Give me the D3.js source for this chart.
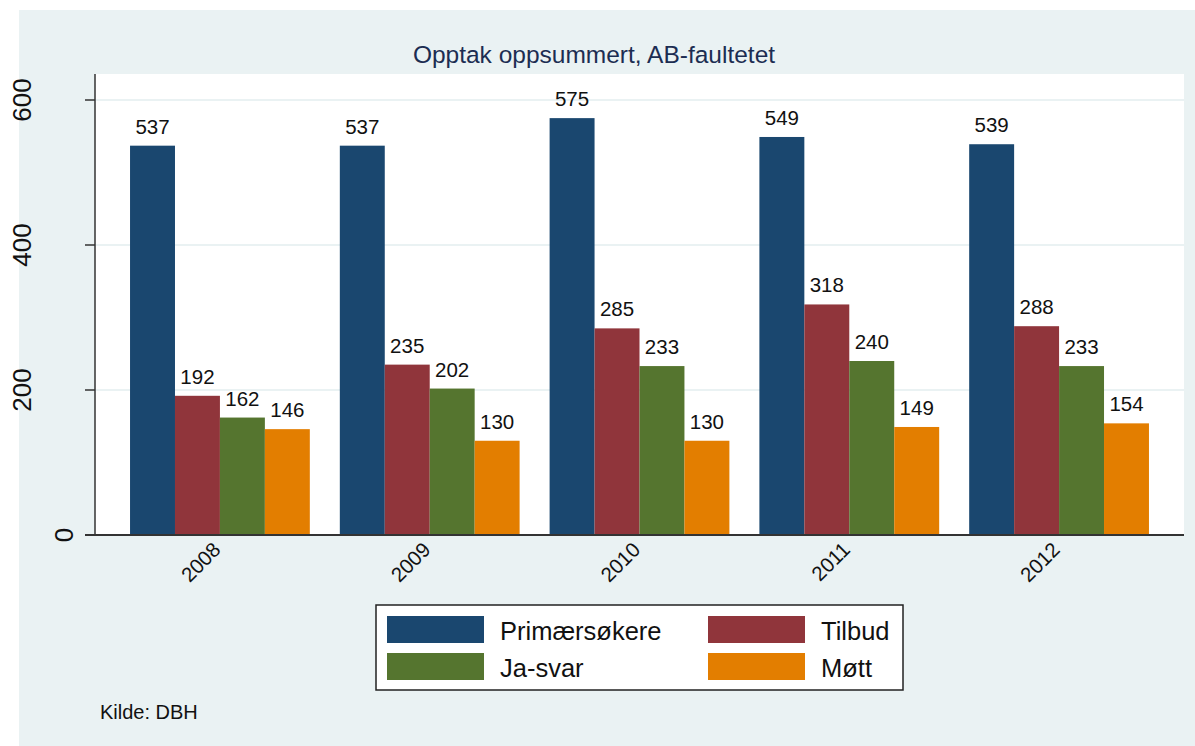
<!DOCTYPE html>
<html>
<head>
<meta charset="utf-8">
<script src="https://cdn.jsdelivr.net/npm/d3@7"></script>
<style>
  body { margin: 0; background: #fff; }
  text { font-family: Arial, "Liberation Sans", sans-serif; }
</style>
</head>
<body>
<svg id="chart" width="1195" height="746"></svg>
<script>
// data
var years = ["2008", "2009", "2010", "2011", "2012"];
var seriesNames = ["Primærsøkere", "Tilbud", "Ja-svar", "Møtt"];
var primaersokere = [537, 537, 575, 549, 539];
var tilbud = [192, 235, 285, 318, 288];
var jaSvar = [162, 202, 233, 240, 233];
var mott = [146, 130, 130, 149, 154];
var yTicks = [0, 200, 400, 600];
var colours = ["#1a476f", "#90353b", "#55752f", "#e37e00"];

var series = [primaersokere, tilbud, jaSvar, mott];

var svg = d3.select("#chart");

// graph background
svg.append("rect").attr("x", 19).attr("y", 10).attr("width", 1176).attr("height", 736)
    .attr("fill", "#eaf2f3");

var plotL = 95, plotR = 1184, plotT = 74, plotB = 535;

svg.append("rect").attr("x", plotL).attr("y", plotT)
    .attr("width", plotR - plotL).attr("height", plotB - plotT).attr("fill", "#fff");

var y = d3.scaleLinear().domain([0, 600]).range([plotB, 100]);
var x0 = d3.scaleBand().domain(years).range([plotL, plotR])
    .paddingInner(0.143).paddingOuter(0.167);
var x1 = d3.scaleBand().domain(d3.range(series.length)).range([0, x0.bandwidth()]);

// grid
svg.append("g").selectAll("line")
    .data(yTicks.filter(t => t > 0))
    .enter().append("line")
    .attr("x1", plotL).attr("x2", plotR)
    .attr("y1", d => y(d)).attr("y2", d => y(d))
    .attr("stroke", "#eaf2f3").attr("stroke-width", 2);

// bars
var groups = svg.append("g").selectAll("g")
    .data(years).enter().append("g")
    .attr("transform", d => "translate(" + x0(d) + ",0)");

groups.selectAll("rect")
    .data((d, i) => series.map((s, k) => ({k: k, v: s[i]})))
    .enter().append("rect")
    .attr("x", d => x1(d.k))
    .attr("width", x1.bandwidth())
    .attr("y", d => y(d.v))
    .attr("height", d => plotB - y(d.v))
    .attr("fill", d => colours[d.k]);

groups.selectAll("text")
    .data((d, i) => series.map((s, k) => ({k: k, v: s[i]})))
    .enter().append("text")
    .attr("x", d => x1(d.k) + x1.bandwidth() / 2)
    .attr("y", d => y(d.v) - 12)
    .attr("text-anchor", "middle")
    .attr("font-size", 20.5)
    .attr("fill", "#111")
    .text(d => d.v);

// y axis
var yAxis = svg.append("g").attr("transform", "translate(" + plotL + ",0)");
yAxis.append("line").attr("x1", 0).attr("x2", 0).attr("y1", plotT).attr("y2", plotB)
    .attr("stroke", "#333").attr("stroke-width", 1.5);
yAxis.selectAll(".tick").data(yTicks).enter().append("line")
    .attr("x1", -10).attr("x2", 0)
    .attr("y1", d => y(d)).attr("y2", d => y(d))
    .attr("stroke", "#333").attr("stroke-width", 1.5);
yAxis.selectAll("text").data(yTicks).enter().append("text")
    .attr("transform", d => "translate(" + (-73 + (3 - String(d).length) * 21) + "," + y(d) + ") rotate(-90)")
    .attr("text-anchor", "middle")
    .attr("dy", "0.36em")
    .attr("font-size", 26)
    .attr("fill", "#111")
    .text(d => d);

// x axis
svg.append("line").attr("x1", plotL - 10).attr("x2", plotR)
    .attr("y1", plotB).attr("y2", plotB)
    .attr("stroke", "#333").attr("stroke-width", 2);
svg.append("g").selectAll("text").data(years).enter().append("text")
    .attr("transform", d => "translate(" + (x0(d) + x0.bandwidth() / 2 + 2) + "," + (plotB + 16) + ") rotate(-45)")
    .attr("text-anchor", "end")
    .attr("font-size", 20.5)
    .attr("fill", "#111")
    .text(d => d);

// title
svg.append("text").attr("x", 594).attr("y", 63).attr("text-anchor", "middle")
    .attr("font-size", 24.5).attr("fill", "#1c2d52")
    .text("Opptak oppsummert, AB-faultetet");

// legend
var legend = svg.append("g").attr("transform", "translate(376,605)");
legend.append("rect").attr("width", 527).attr("height", 85)
    .attr("fill", "#fff").attr("stroke", "#222").attr("stroke-width", 1.5);
var items = legend.selectAll("g.item").data(seriesNames).enter().append("g")
    .attr("transform", (d, i) => "translate(" + (i % 2 === 0 ? 11 : 332) + "," + (i < 2 ? 11 : 48) + ")");
items.append("rect").attr("width", 97).attr("height", 27)
    .attr("fill", (d, i) => colours[i]);
items.append("text").attr("x", 113).attr("y", 24)
    .attr("font-size", 25.5).attr("fill", "#111")
    .text(d => d);

// note
svg.append("text").attr("x", 100).attr("y", 719).attr("font-size", 20).attr("fill", "#111")
    .text("Kilde: DBH");
</script>
</body>
</html>
